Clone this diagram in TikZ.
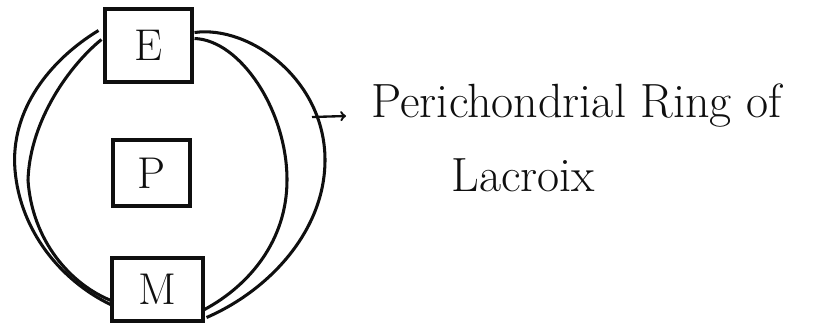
\documentclass[tikz,border=0pt]{standalone}
\usetikzlibrary{arrows}
\usetikzlibrary{calc, math}
\definecolor{inkblack}{RGB}{15,15,15}

\begin{document}
\begin{tikzpicture}[x=0.03cm, y=-0.03cm, line width=2.6pt, color=inkblack]
\tikzmath{
\px=0.03;
\boxEw=87*\px;
\boxEh=73*\px;
\boxPw=77*\px;
\boxPh=66*\px;
\boxMw=91*\px;
\boxMh=63*\px;
}
\tikzset{letterbox/.style={draw, inner sep=0pt, font=\fontsize{38}{42}\selectfont},
ringtext/.style={anchor=base west, inner sep=0pt, font=\fontsize{41}{46}\selectfont}}

\useasboundingbox (0,0) rectangle (834,327);

\node[letterbox, minimum width=\boxEw cm, minimum height=\boxEh cm] (E) at (148.5,45.5) {E};
\node[letterbox, minimum width=\boxPw cm, minimum height=\boxPh cm] (P) at (151.5,173) {P};
\node[letterbox, minimum width=\boxMw cm, minimum height=\boxMh cm] (M) at (157.5,289.5) {M};

\draw ($(E.west)+(-5,-15)$) .. controls (50,60) and (10,110) .. (15,170) .. controls (20,230) and (60,280) .. ($(M.west)+(0,15)$);
\draw ($(E.west)+(-2,-6)$) .. controls (70,65) and (30,120) .. (28,180) .. controls (32,240) and (70,285) .. ($(M.west)+(3,12)$);
\draw ($(E.east)+(1,-13)$) .. controls (250,25) and (325,80) .. (325,160) .. controls (325,230) and (270,290) .. ($(M.east)+(2,28)$);
\draw ($(E.east)+(1,-7)$) .. controls (240,40) and (287,110) .. (287,180) .. controls (287,240) and (250,285) .. ($(M.east)+(0,20)$);

\node[ringtext] (ring) at (370,117) {Perichondrial Ring of};
\node[ringtext] (lacroix) at (450,191) {Lacroix};

\coordinate (tail) at (312,117);
\coordinate (head) at ($(ring.base west)+(-24,-1)$);
\draw[->, line width=2pt] (tail) -- (head);

\end{tikzpicture}
\end{document}
